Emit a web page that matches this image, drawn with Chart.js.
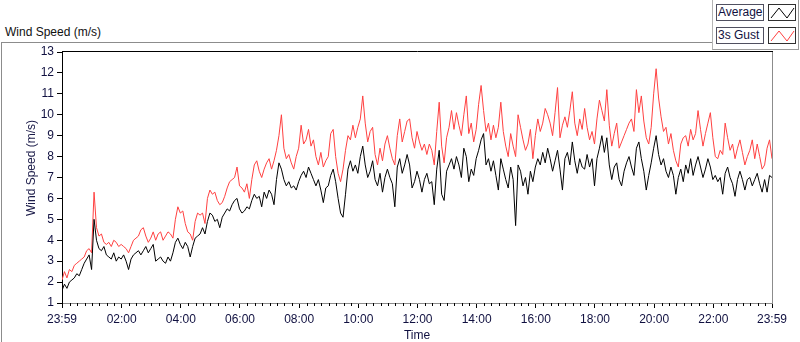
<!DOCTYPE html>
<html>
<head>
<meta charset="utf-8">
<script src="https://cdn.jsdelivr.net/npm/chart.js@4.4.0/dist/chart.umd.min.js"></script>
<style>
  html, body { margin: 0; padding: 0; background: #fff; }
  #wrap { position: relative; width: 800px; height: 342px; overflow: hidden;
          font-family: "Liberation Sans", Arial, sans-serif; font-size: 12px; color: #111; }
  #frame { position: absolute; left: 1px; top: 42px; width: 712px; height: 301px;
           border-left: 1px solid #8c8c8c; border-top: 1px solid #8c8c8c; box-sizing: border-box; }
  #title { position: absolute; left: 5px; top: 25px; line-height: 14px; white-space: nowrap; }
  #legend { position: absolute; left: 712px; top: 0; width: 87px; height: 50px; background: #fff;
            border-left: 1px solid #b4b4b4; border-bottom: 1px solid #9a9a9a; border-right: 1px solid #9a9a9a;
            box-sizing: border-box; }
  .lab { position: absolute; left: 3px; width: 48px; height: 17px; border: 1px solid #505060;
         box-sizing: border-box; line-height: 15px; padding-left: 1px; color: #101040; }
  .ico { position: absolute; left: 55px; width: 28px; height: 17px; border: 1px solid #303030;
         box-sizing: border-box; }
  canvas { position: absolute; left: 0; top: 0; }
</style>
</head>
<body>
<div id="wrap">
  <div id="frame"></div>
  <div id="title">Wind Speed (m/s)</div>
  <div id="legend">
    <div class="lab" style="top:4px">Average</div>
    <div class="ico" style="top:4px"><svg width="26" height="15"><polyline points="2,13 10,3 18,13 25,3" fill="none" stroke="#000" stroke-width="1"/></svg></div>
    <div class="lab" style="top:27px">3s Gust</div>
    <div class="ico" style="top:27px"><svg width="26" height="15"><polyline points="2,13 10,3 18,13 25,3" fill="none" stroke="#ff4040" stroke-width="1"/></svg></div>
  </div>
  <canvas id="wind" width="800" height="342"></canvas>
</div>
<script>
// one sample every 5 minutes, starting at 23:59 of the previous day
const stepMinutes = 5;

const tickMinutes = [0, 121, 241, 361, 481, 601, 721, 841, 961, 1081, 1201, 1321, 1440];
const tickLabels = ['23:59', '02:00', '04:00', '06:00', '08:00', '10:00', '12:00',
                    '14:00', '16:00', '18:00', '20:00', '22:00', '23:59'];

const avgSpeed = [
  1.6, 1.9, 1.7, 2.0, 2.1, 2.2, 2.4, 2.3, 2.6, 2.9,
  3.1, 3.3, 2.6, 5.0, 4.0, 3.6, 3.5, 3.7, 3.3, 3.2,
  3.1, 3.4, 3.0, 3.2, 3.1, 3.3, 3.0, 2.6, 3.1, 3.3,
  3.4, 3.5, 3.3, 3.5, 3.7, 3.4, 3.6, 3.8, 3.0, 3.1,
  3.2, 3.0, 2.9, 3.2, 3.0, 3.4, 3.9, 4.1, 3.8, 3.6,
  3.9, 3.7, 3.2, 3.7, 4.1, 4.2, 4.3, 4.6, 4.3, 4.9,
  5.3, 5.2, 4.9, 5.0, 4.6, 5.1, 5.3, 5.5, 5.4, 5.7,
  5.9, 6.0, 5.5, 5.3, 5.4, 5.6, 5.5, 5.9, 6.2, 6.0,
  6.1, 5.6, 6.3, 6.0, 6.4, 6.2, 5.7, 6.9, 7.7, 7.4,
  6.9, 6.6, 6.8, 6.5, 6.6, 6.4, 6.8, 7.1, 7.3, 7.0,
  7.5, 7.2, 6.9, 6.6, 6.9, 6.4, 5.8, 6.5, 6.6, 7.1,
  7.4, 6.8, 6.0, 5.3, 5.1, 6.2, 7.4, 7.8, 7.3, 7.6,
  7.2, 8.0, 8.5, 7.6, 7.0, 7.3, 7.8, 6.9, 6.6, 7.2,
  6.3, 7.0, 7.4, 7.0, 6.7, 5.6, 7.5, 7.9, 7.2, 7.6,
  8.1, 7.6, 6.5, 6.8, 7.3, 6.9, 6.3, 6.9, 7.2, 6.7,
  6.8, 5.7, 7.4, 8.3, 6.2, 5.9, 7.3, 7.6, 7.9, 7.4,
  8.0, 7.6, 7.0, 8.4, 8.0, 6.8, 7.4, 7.1, 7.9, 8.3,
  8.8, 9.1, 7.6, 7.9, 7.3, 7.8, 7.1, 6.4, 7.9, 7.4,
  6.9, 6.5, 7.5, 6.9, 4.7, 7.6, 7.3, 6.6, 7.0, 6.2,
  7.3, 6.8, 7.5, 7.9, 7.6, 8.2, 7.7, 8.4, 7.9, 7.3,
  7.8, 8.3, 7.4, 6.4, 7.9, 8.2, 7.6, 8.7, 7.8, 7.2,
  7.9, 7.5, 7.4, 8.1, 7.5, 7.9, 6.6, 7.9, 8.4, 9.0,
  8.2, 8.9, 7.6, 6.9, 7.5, 7.7, 6.9, 6.6, 7.3, 7.7,
  8.0, 7.5, 7.1, 8.4, 8.7, 7.9, 7.3, 6.4, 7.1, 7.7,
  8.4, 9.0, 8.1, 7.6, 7.9, 7.3, 7.0, 7.5, 7.1, 6.2,
  7.0, 7.4, 6.8, 7.6, 7.2, 7.9, 7.1, 7.6, 8.0, 7.5,
  7.0, 7.4, 7.9, 7.5, 6.9, 7.1, 6.8, 7.0, 6.2, 7.2,
  7.5, 7.0, 6.7, 6.1, 6.9, 7.3, 6.9, 6.4, 6.9, 7.0,
  6.6, 6.9, 7.2, 6.7, 6.3, 6.9, 6.3, 7.1, 7.0
];

const gustSpeed = [
  2.1, 2.5, 2.2, 2.6, 2.5, 2.8, 2.9, 3.0, 3.1, 3.2,
  3.5, 3.6, 3.4, 6.3, 4.6, 4.2, 4.3, 3.9, 3.8, 3.9,
  3.7, 4.0, 3.9, 3.7, 3.8, 3.7, 3.6, 3.4, 3.7, 4.0,
  4.1, 4.2, 4.5, 4.6, 4.2, 3.9, 4.1, 4.4, 4.0, 4.3,
  4.4, 4.0, 4.2, 4.4, 4.3, 4.1, 5.0, 5.6, 5.3, 5.4,
  4.8, 4.4, 4.3, 4.0, 4.9, 5.3, 5.2, 5.3, 4.8, 6.0,
  6.4, 6.2, 6.3, 5.9, 5.7, 5.8, 6.1, 6.5, 6.8, 6.9,
  7.0, 7.5, 6.6, 6.5, 6.3, 6.7, 6.0, 6.9, 7.6, 7.8,
  7.3, 7.0, 7.4, 7.7, 7.9, 7.4, 7.8, 8.3, 9.0, 10.0,
  8.4, 7.9, 8.1, 7.7, 7.4, 8.0, 8.4, 9.5, 8.6, 8.8,
  9.3, 8.5, 8.8, 8.0, 7.6, 8.2, 7.5, 7.8, 8.0, 9.1,
  9.3, 8.0, 7.2, 6.8, 7.4, 8.3, 9.0, 8.8, 9.5, 8.9,
  9.4, 9.8, 10.9, 9.6, 8.7, 9.2, 9.4, 8.1, 7.6, 8.4,
  7.8, 8.6, 9.0, 8.4, 7.9, 7.6, 9.0, 9.8, 8.7, 9.2,
  9.7, 9.8, 8.9, 8.4, 9.2, 8.7, 8.3, 8.6, 8.1, 8.6,
  8.3, 7.6, 9.2, 10.6, 8.5, 7.7, 8.9, 9.4, 10.2, 9.3,
  10.1, 9.5, 9.0, 10.0, 10.9, 9.1, 9.6, 8.7, 9.3, 10.5,
  11.4, 10.2, 9.2, 9.6, 8.8, 9.5, 8.9, 9.4, 10.6, 9.2,
  8.5, 8.0, 9.1, 8.5, 8.0, 10.0, 9.4, 8.8, 8.3, 8.6,
  9.3, 7.9, 9.0, 9.8, 9.2, 9.6, 10.3, 10.0, 9.6, 9.0,
  10.1, 11.3, 8.9, 9.5, 9.9, 9.4, 10.2, 11.1, 9.6, 9.0,
  9.8, 9.3, 10.3, 9.4, 8.8, 9.2, 8.6, 9.8, 10.7, 10.2,
  9.7, 11.2, 9.5, 8.5, 9.1, 9.6, 8.4, 8.7, 9.0, 9.3,
  9.6, 9.8, 9.2, 11.2, 10.1, 10.9, 9.7, 8.9, 8.6, 9.4,
  11.0, 12.2, 10.8, 9.9, 9.2, 9.4, 8.6, 9.1, 8.3, 7.8,
  7.5, 8.6, 8.9, 9.0, 8.5, 9.3, 8.8, 9.1, 10.2, 9.3,
  8.5, 9.1, 9.6, 10.1, 8.9, 8.0, 7.9, 8.3, 8.1, 9.6,
  8.9, 8.3, 8.6, 7.9, 8.4, 8.8, 8.2, 7.6, 8.0, 8.3,
  8.8, 7.9, 8.6, 8.0, 7.4, 7.6, 8.4, 8.8, 7.9
];

const avgPoints = avgSpeed.map((v, i) => ({ x: i * stepMinutes, y: v }));
const gustPoints = gustSpeed.map((v, i) => ({ x: i * stepMinutes, y: v }));

// small 15 minute ticks, border on top/right, rotated y title
const extras = {
  id: 'extras',
  afterDraw(chart) {
    const ctx = chart.ctx;
    const a = chart.chartArea;
    const xs = chart.scales.x;
    ctx.save();
    ctx.lineWidth = 1;
    ctx.strokeStyle = '#000';
    ctx.beginPath();
    for (let m = 16; m < 1440; m += 15) {
      if (tickMinutes.indexOf(m) >= 0) continue;
      const px = Math.round(xs.getPixelForValue(m)) + 0.5;
      ctx.moveTo(px, a.bottom);
      ctx.lineTo(px, a.bottom + 3);
    }
    ctx.stroke();

    ctx.beginPath();
    ctx.moveTo(a.left, Math.round(a.top) - 0.5);
    ctx.lineTo(a.right + 1, Math.round(a.top) - 0.5);
    ctx.stroke();
    ctx.strokeStyle = '#8c8c8c';
    ctx.beginPath();
    ctx.moveTo(Math.round(a.right) + 0.5, a.top);
    ctx.lineTo(Math.round(a.right) + 0.5, a.bottom + 1);
    ctx.stroke();

    ctx.fillStyle = '#1a1a48';
    ctx.font = '12px "Liberation Sans", Arial, sans-serif';
    ctx.textAlign = 'center';
    ctx.textBaseline = 'middle';
    ctx.translate(32, 168);
    ctx.rotate(-Math.PI / 2);
    ctx.fillText('Wind Speed (m/s)', 0, 0);
    ctx.restore();
  }
};

const ctx = document.getElementById('wind');
const windChart = new Chart(ctx, {
  type: 'line',
  data: {
    datasets: [{
      label: 'Average',
      data: avgPoints,
      borderColor: '#000000',
      borderWidth: 1,
      pointRadius: 0,
      tension: 0
    }, {
      label: '3s Gust',
      data: gustPoints,
      borderColor: '#ff4040',
      borderWidth: 1,
      pointRadius: 0,
      tension: 0
    }]
  },
  options: {
    responsive: false,
    animation: false,
    events: [],
    layout: { padding: { left: 0, right: 28, top: 52, bottom: 0 } },
    plugins: {
      legend: { display: false },
      tooltip: { enabled: false }
    },
    scales: {
      x: {
        type: 'linear',
        min: 0,
        max: 1440,
        afterBuildTicks(scale) {
          scale.ticks = tickMinutes.map(v => ({ value: v }));
        },
        afterFit(scale) { scale.height = 39; },
        ticks: {
          autoSkip: false,
          maxRotation: 0,
          padding: 4,
          color: '#101040',
          font: { family: '"Liberation Sans", Arial, sans-serif', size: 12 },
          callback: (v, i) => tickLabels[i]
        },
        grid: { drawOnChartArea: false, tickLength: 5, tickColor: '#000', color: '#000' },
        border: { display: true, color: '#8c8c8c', width: 1 },
        title: {
          display: true,
          text: 'Time',
          color: '#101040',
          font: { family: '"Liberation Sans", Arial, sans-serif', size: 12 },
          padding: { top: 0, bottom: -1 }
        }
      },
      y: {
        min: 1,
        max: 13,
        afterFit(scale) { scale.width = 62; },
        ticks: {
          stepSize: 1,
          padding: 3,
          color: '#101040',
          font: { family: '"Liberation Sans", Arial, sans-serif', size: 12 }
        },
        grid: { drawOnChartArea: false, tickLength: 5, tickColor: '#000', color: '#000' },
        border: { display: true, color: '#000', width: 1 }
      }
    }
  },
  plugins: [extras]
});
</script>
</body>
</html>
